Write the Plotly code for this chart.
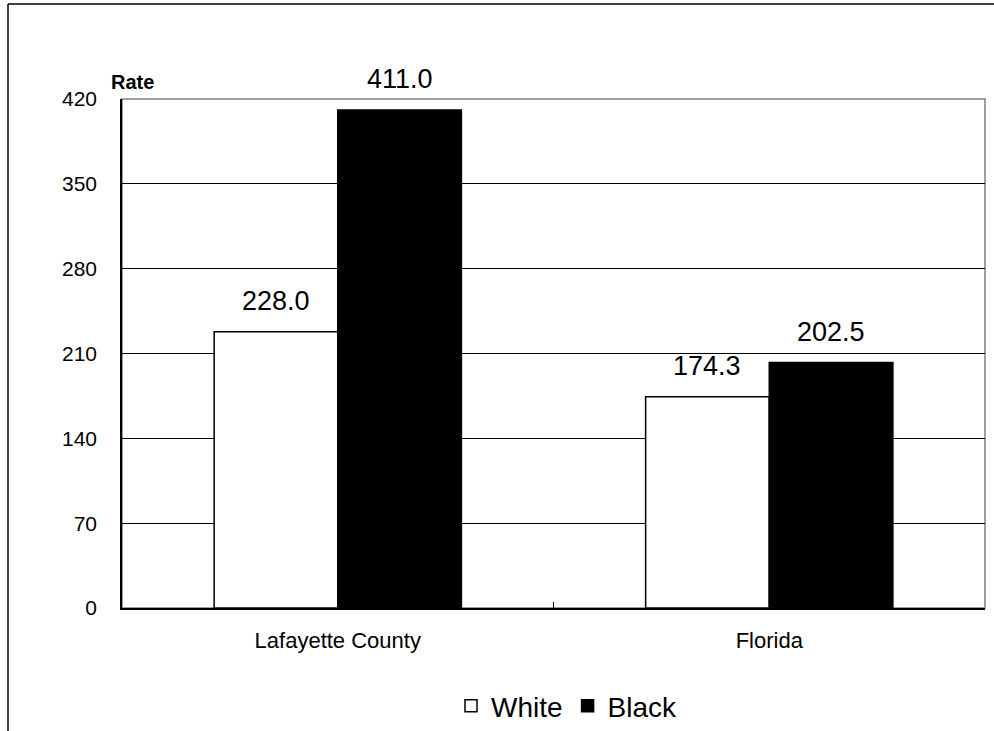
import plotly.graph_objects as go

categories = ["Lafayette County", "Florida"]
white_vals = [228.0, 174.3]
black_vals = [411.0, 202.5]
y_ticks = [0, 70, 140, 210, 280, 350, 420]

L, R, T, B = 122, 9, 99, 123
W, H = 994, 731
pw = W - L - R
ph = H - T - B

def px_x(x):
    return (x - L) / pw

def px_y(y):
    return (H - B - y) / ph

fig = go.Figure()
fig.add_trace(go.Bar(
    name="White", x=categories, y=white_vals,
    marker=dict(color="white", line=dict(color="black", width=1.5)),
))
fig.add_trace(go.Bar(
    name="Black", x=categories, y=black_vals,
    marker=dict(color="black", line=dict(color="black", width=1.5)),
))

annotations = [
    dict(text="<b>Rate</b>", xref="paper", yref="paper", x=px_x(109), y=px_y(82),
         xanchor="left", yanchor="middle", showarrow=False, font=dict(size=20, family="Arial")),
]
bar_half = 62
for cat, wv, bv in zip(categories, white_vals, black_vals):
    for v, shift in ((wv, -bar_half), (bv, bar_half)):
        annotations.append(dict(
            text=f"{v:.1f}", x=cat, y=v, xref="x", yref="y", xshift=shift, yshift=14,
            xanchor="center", yanchor="bottom", showarrow=False,
            font=dict(size=27, family="Arial", color="black"),
        ))

fig.update_layout(
    width=W, height=H,
    margin=dict(l=L, r=R, t=T, b=B, autoexpand=False),
    paper_bgcolor="white", plot_bgcolor="white",
    barmode="group", bargap=0.427, bargroupgap=0,
    font=dict(family="Arial", size=21, color="black"),
    showlegend=True,
    legend=dict(orientation="h", x=px_x(567), y=px_y(706), xanchor="center", yanchor="middle",
                font=dict(size=28, family="Arial"), itemwidth=30, traceorder="normal"),
    xaxis=dict(showline=True, linecolor="black", linewidth=1.5, ticks="inside", ticklen=6,
               tickcolor="black", tickson="boundaries", showgrid=False,
               tickfont=dict(size=22), ticklabelstandoff=12),
    yaxis=dict(range=[0, 420], tickvals=y_ticks, showline=True, linecolor="black", linewidth=1.5,
               ticks="inside", ticklen=3, tickcolor="black", showgrid=True, gridcolor="black",
               gridwidth=1, zeroline=False, tickfont=dict(size=21), ticklabelstandoff=19),
    shapes=[
        dict(type="rect", xref="paper", yref="paper", x0=0, x1=1, y0=0, y1=1,
             line=dict(color="#808080", width=1.5), layer="below"),
        dict(type="line", xref="paper", yref="paper", x0=px_x(8), x1=px_x(1000), y0=px_y(4), y1=px_y(4),
             line=dict(color="black", width=1.5)),
        dict(type="line", xref="paper", yref="paper", x0=px_x(8), x1=px_x(8), y0=px_y(4), y1=px_y(740),
             line=dict(color="black", width=1.5)),
    ],
    annotations=annotations,
)

fig.write_html("out.html", config={"displayModeBar": False},
               post_script="document.body.style.margin='0';")
